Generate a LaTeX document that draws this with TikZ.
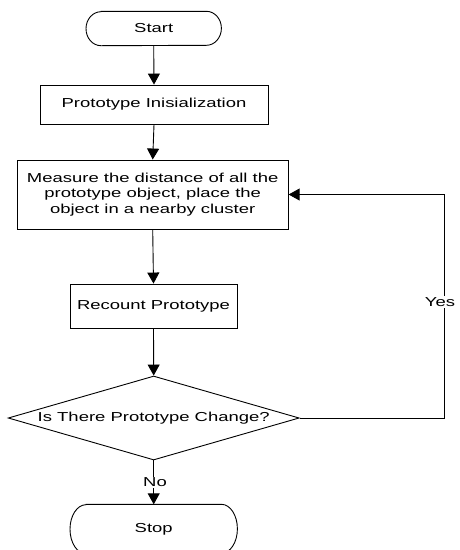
\documentclass[tikz,border=0pt]{standalone}
\usepackage{fontspec}
\setmainfont[FakeStretch=1.42]{Liberation Sans}
\usetikzlibrary{arrows.meta,shapes.geometric}
\begin{document}
\begin{tikzpicture}[x=1pt,y=-1pt,
  every node/.style={font=\fontsize{13}{15.7}\selectfont, inner sep=0pt},
  procbox/.style={draw, line width=0.9pt, rectangle, align=center},
  termbox/.style={draw=none, rectangle},
  decbox/.style={draw, line width=0.9pt, diamond, aspect=3.46},
  termline/.style={line width=0.9pt},
  conn/.style={line width=0.9pt, arrows={-Triangle[length=11pt,width=12pt]}},
  lbl/.style={fill=white, inner sep=1pt}]
\useasboundingbox (0,0) rectangle (459,550);
% Start terminator
\node[termbox, minimum width=135pt, minimum height=34pt] (start) at (153.7,28.5) {Start};
\draw[termline] ([xshift=15pt]start.north west) -- ([xshift=-15pt]start.north east)
  arc[start angle=90, end angle=-90, x radius=15pt, y radius=17pt]
  -- ([xshift=15pt]start.south west)
  arc[start angle=270, end angle=90, x radius=15pt, y radius=17pt] -- cycle;
% Boxes
\node[procbox, minimum width=228pt, minimum height=39pt] (init) at (154,104.5) {Prototype Inisialization};
\node[procbox, minimum width=271pt, minimum height=69pt] (meas) at (152.7,194.5) {Measure the distance of all the\\prototype object, place the\\object in a nearby cluster};
\node[procbox, minimum width=167pt, minimum height=44pt] (recount) at (153.5,306) {Recount Prototype};
\node[decbox, minimum width=291pt, minimum height=84pt] (dec) at (153.7,418) {};
\node at (dec.center) (dectext) {Is There Prototype Change?};
% Stop terminator
\node[termbox, minimum width=167pt, minimum height=49pt] (stop) at (153.7,529) {Stop};
\draw[termline] ([xshift=16pt]stop.north west) -- ([xshift=-16pt]stop.north east)
  arc[start angle=90, end angle=-90, x radius=16pt, y radius=24.5pt]
  -- ([xshift=16pt]stop.south west)
  arc[start angle=270, end angle=90, x radius=16pt, y radius=24.5pt] -- cycle;
% Connectors
\draw[conn] (start.south) -- (init.north);
\draw[conn] (init.south) -- (meas.north);
\draw[conn] (meas.south) -- (recount.north);
\draw[conn] (recount.south) -- (dec.north);
\coordinate (c1) at (444.3,418);
\coordinate (c2) at (444.3,194.5);
\draw[conn] (dec.east) -- (c1) -- (c2) -- (meas.east);
\draw[conn] (dec.south) -- (stop.north);
% Labels
\node[lbl] (yes) at (440,302) {Yes};
\node[lbl] (no) at (155,482.5) {No};
\end{tikzpicture}
\end{document}
